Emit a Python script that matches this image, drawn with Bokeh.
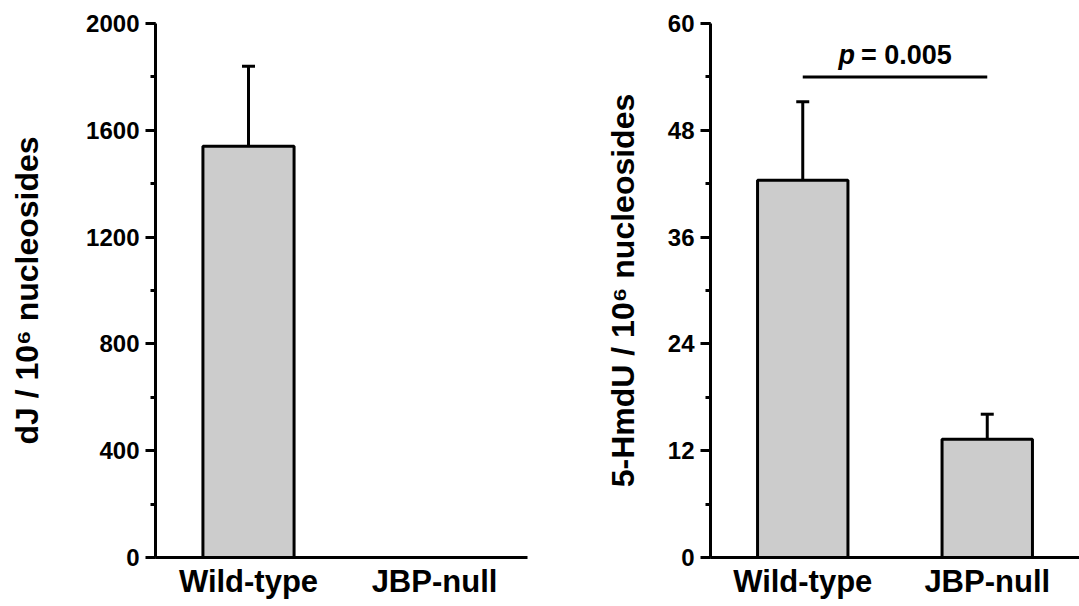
from bokeh.plotting import figure
from bokeh.layouts import row
from bokeh.models import (Range1d, FixedTicker, SingleIntervalTicker, Whisker,
                          TeeHead, ColumnDataSource)
from bokeh.core.properties import value
from bokeh.embed import file_html
from bokeh.resources import INLINE

# ---- data ----
categories = ["Wild-type", "JBP-null"]
dj_values = [1540, 0]
dj_errors = [300, 0]
hmdu_values = [42.4, 13.3]
hmdu_errors = [8.8, 2.8]
dj_ticks = [0, 400, 800, 1200, 1600, 2000]
hmdu_ticks = [0, 12, 24, 36, 48, 60]
dj_label = "dJ / 10\u2076 nucleosides"
hmdu_label = "5-HmdU / 10\u2076 nucleosides"
p_symbol = "p"
p_text = "= 0.005"
p_bracket_y = 54

FONT = "Liberation Sans"


def make_panel(vals, errs, ticks, ylabel, width, b_left, b_right, title_standoff):
    xs = [i + 0.5 for i in range(len(categories))]
    p = figure(width=width, height=606,
               x_range=Range1d(0, len(categories)),
               y_range=Range1d(ticks[0], ticks[-1]),
               output_backend="svg", toolbar_location=None,
               min_border_left=b_left, min_border_right=b_right,
               min_border_top=23, min_border_bottom=49)
    p.grid.visible = False
    p.outline_line_color = None
    p.background_fill_color = "white"
    p.border_fill_color = "white"

    src = ColumnDataSource(dict(x=xs, top=vals))
    eb = ColumnDataSource(dict(
        x=[x for x, e in zip(xs, errs) if e > 0],
        lower=[v for v, e in zip(vals, errs) if e > 0],
        upper=[v + e for v, e in zip(vals, errs) if e > 0]))
    w = Whisker(source=eb, base="x", lower="lower", upper="upper",
                dimension="height", line_width=3, line_color="black",
                upper_head=TeeHead(size=13, line_width=3, line_color="black"),
                lower_head=None)
    p.add_layout(w)
    p.vbar(x="x", top="top", width=0.49, bottom=0, source=src,
           fill_color="#cccccc", line_color="black", line_width=3)

    ya = p.yaxis[0]
    ya.ticker = SingleIntervalTicker(interval=ticks[1] - ticks[0], num_minor_ticks=2)
    ya.axis_line_width = 3
    ya.major_tick_line_width = 3
    ya.minor_tick_line_width = 3
    ya.major_tick_out = 10
    ya.major_tick_in = 0
    ya.minor_tick_out = 5
    ya.minor_tick_in = 0
    ya.major_label_text_font = FONT
    ya.major_label_text_font_style = "bold"
    ya.major_label_text_font_size = "24px"
    ya.major_label_text_color = "black"
    ya.major_label_standoff = 6
    ya.axis_label = ylabel
    ya.axis_label_text_font = FONT
    ya.axis_label_text_font_style = "bold"
    ya.axis_label_text_font_size = "32px"
    ya.axis_label_text_color = "black"
    ya.axis_label_standoff = title_standoff

    xa = p.xaxis[0]
    xa.ticker = FixedTicker(ticks=xs)
    xa.major_label_overrides = {x: c for x, c in zip(xs, categories)}
    xa.axis_line_width = 3
    xa.major_tick_out = 0
    xa.major_tick_in = 0
    xa.minor_tick_out = 0
    xa.minor_tick_in = 0
    xa.major_label_text_font = FONT
    xa.major_label_text_font_style = "bold"
    xa.major_label_text_font_size = "31px"
    xa.major_label_text_color = "black"
    xa.major_label_standoff = 6
    return p, xs


p1, xs1 = make_panel(dj_values, dj_errors, dj_ticks, dj_label, 560, 155, 33, 38)
p2, xs2 = make_panel(hmdu_values, hmdu_errors, hmdu_ticks, hmdu_label, 519, 150, 0, 24)

# significance bracket
p2.segment(x0=[xs2[0]], y0=[p_bracket_y], x1=[xs2[1]], y1=[p_bracket_y],
           line_width=3, line_color="black")
mid = [(xs2[0] + xs2[1]) / 2]
p2.text(x=mid, y=[p_bracket_y], text=[p_symbol], text_align="right",
        text_baseline="alphabetic", x_offset=-40, y_offset=-22,
        text_font=value(FONT), text_font_style="bold italic",
        text_font_size="27px", text_color="black")
p2.text(x=mid, y=[p_bracket_y], text=[p_text], text_align="left",
        text_baseline="alphabetic", x_offset=-34, y_offset=-22,
        text_font=value(FONT), text_font_style="bold",
        text_font_size="27px", text_color="black")

layout = row(p1, p2)
open("out.html", "w").write(file_html(layout, INLINE))
